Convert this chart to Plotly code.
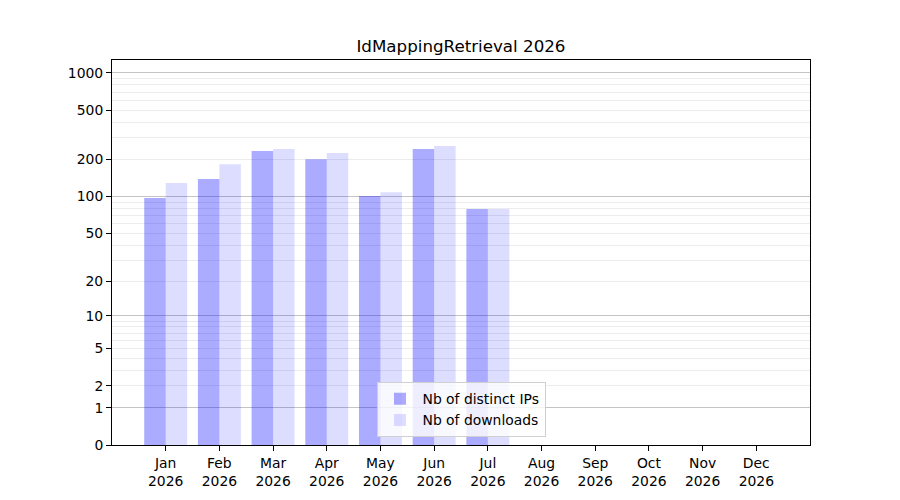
import plotly.graph_objects as go

months = ["Jan", "Feb", "Mar", "Apr", "May", "Jun",
          "Jul", "Aug", "Sep", "Oct", "Nov", "Dec"]
year = "2026"
distinct_ips = [97, 139, 234, 201, 101, 243, 79, 0, 0, 0, 0, 0]
downloads = [129, 183, 243, 225, 108, 257, 79, 0, 0, 0, 0, 0]

tick_vals = [0, 1, 2, 5, 10, 20, 50, 100, 200, 500, 1000]
major_grid = [1, 10, 100, 1000]
minor_grid = [m * d for d in (1, 10, 100) for m in range(2, 10)]

# axis is log10(1 + n), so shift everything by one
def shift(vals):
    return [v + 1 for v in vals]

cats = [m + "<br>" + year for m in months]

fig = go.Figure()
fig.add_trace(go.Bar(
    x=cats, y=shift(distinct_ips), name="Nb of distinct IPs",
    marker=dict(color="rgba(0,0,255,0.33)", line=dict(width=0)),
))
fig.add_trace(go.Bar(
    x=cats, y=shift(downloads), name="Nb of downloads",
    marker=dict(color="rgba(0,0,255,0.135)", line=dict(width=0)),
))
# invisible helper trace so the darker grid axis exists
fig.add_trace(go.Scatter(x=[cats[0]], y=[1], yaxis="y2", mode="markers",
                         marker=dict(opacity=0), showlegend=False,
                         hoverinfo="skip"))

# page body has an 8px margin, so the figure is a bit smaller than the window
fig.update_layout(
    width=892, height=492,
    margin=dict(l=104, r=90, t=52, b=55),
    paper_bgcolor="white", plot_bgcolor="white",
    font=dict(family="DejaVu Sans", size=13.9, color="black"),
    title=dict(text="IdMappingRetrieval 2026", x=0.5078, xanchor="center",
               y=0.9228, yanchor="middle", font=dict(size=16.7)),
    barmode="group", bargap=0.2, bargroupgap=0,
    showlegend=True,
    legend=dict(x=0.5, xanchor="center", y=0.02, yanchor="bottom",
                bgcolor="rgba(255,255,255,0.8)", bordercolor="#d0d0d0",
                borderwidth=1, font=dict(size=13.9), itemwidth=35,
                tracegroupgap=0),
    xaxis=dict(
        type="category", range=[-1, 12],
        showline=True, linecolor="black", linewidth=1, mirror=True,
        ticks="outside", ticklen=5, tickcolor="black",
        showgrid=False,
    ),
    yaxis=dict(
        type="log", range=[0, 3.105],
        tickmode="array", tickvals=shift(tick_vals),
        ticktext=[str(t) for t in tick_vals],
        showline=True, linecolor="black", linewidth=1, mirror=True,
        ticks="outside", ticklen=5, tickcolor="black",
        showgrid=False, zeroline=False,
        minor=dict(tickmode="array", tickvals=shift(minor_grid),
                   showgrid=True, gridcolor="#ececec", gridwidth=1,
                   ticks=""),
    ),
    yaxis2=dict(
        type="log", range=[0, 3.105], overlaying="y",
        tickmode="array", tickvals=shift(major_grid),
        showticklabels=False, ticks="",
        showgrid=True, gridcolor="#c4c4c4", gridwidth=1,
        zeroline=False, showline=False,
    ),
)

fig.write_html("out.html")
